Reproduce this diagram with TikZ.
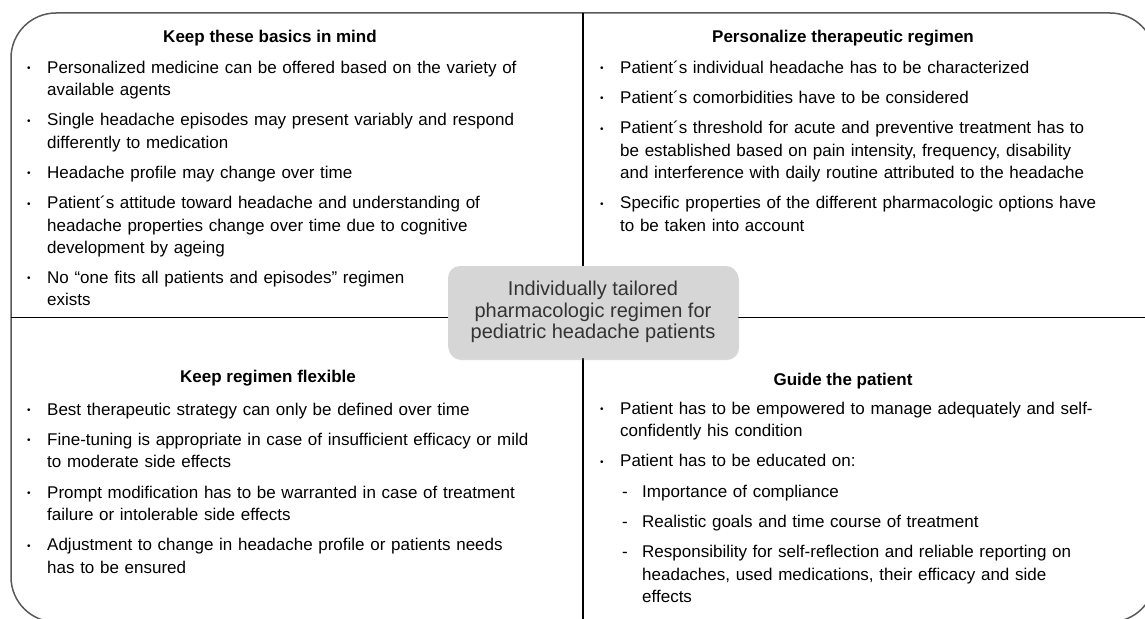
\documentclass[tikz,border=0pt]{standalone}
\usepackage{fontspec}
\setmainfont{Liberation Sans}
\usetikzlibrary{positioning, shadows}

% list entries: bullet item and dash sub-item with hanging indent
\newcommand{\bul}{\makebox[20pt][l]{\raisebox{0.2ex}{\fontsize{10}{10}\selectfont\textbullet}}}
\newcommand{\litem}[1]{\par\hangindent=20pt\hangafter=1\noindent\bul#1\par\addvspace{8pt}}
\newcommand{\lsub}[1]{\par\hangindent=42pt\hangafter=1\noindent\hspace*{22pt}\makebox[20pt][l]{-}#1\par\addvspace{8pt}}

\tikzset{
  frame/.style={draw=black!65, line width=1.5pt, rounded corners=45pt, inner sep=0pt, outer sep=0pt},
  divider/.style={draw=black, line width=1.2pt},
  hub/.style={fill=black!16, rounded corners=12pt, align=center, text=black!80,
    font=\fontsize{20}{21.5}\selectfont, minimum width=290pt, minimum height=92pt,
    drop shadow={opacity=0.3, shadow xshift=1pt, shadow yshift=-2pt}},
  heading/.style={anchor=base, inner sep=0pt, text=black, font=\fontsize{17}{20}\selectfont\bfseries},
  itemlist/.style={anchor=base west, inner sep=0pt, text width=525pt, align=left, text=black,
    font=\fontsize{17}{22.3}\selectfont}
}

\begin{document}
\begin{tikzpicture}[x=1pt, y=-1pt]
\useasboundingbox (0,0) rectangle (1145,618);
\clip (0,0) rectangle (1145,618);

% outer frame and the two dividers
\node[frame, minimum width=1144pt, minimum height=609pt] (frame) at (583,317.5) {};
\draw[divider] (frame.north) -- (frame.south);
\draw[divider] (frame.west) -- (frame.east);

% centre box
\node[hub] (hub) at (593,312) {Individually tailored\\pharmacologic regimen for\\pediatric headache patients};

% top left
\node[heading] (basicsHead) at (270,43) {Keep these basics in mind};
\node[itemlist] (basicsList) at (27,51) {%
\litem{Personalized medicine can be offered based on the variety of\newline available agents}
\litem{Single headache episodes may present variably and respond\newline differently to medication}
\litem{Headache profile may change over time}
\litem{Patient´s attitude toward headache and understanding of\newline headache properties change over time due to cognitive\newline development by ageing}
\litem{No “one fits all patients and episodes” regimen\newline exists}};

% top right
\node[heading] (regimenHead) at (843,43) {Personalize therapeutic regimen};
\node[itemlist] (regimenList) at (600,51) {%
\litem{Patient´s individual headache has to be characterized}
\litem{Patient´s comorbidities have to be considered}
\litem{Patient´s threshold for acute and preventive treatment has to\newline be established based on pain intensity, frequency, disability\newline and interference with daily routine attributed to the headache}
\litem{Specific properties of the different pharmacologic options have\newline to be taken into account}};

% bottom left
\node[heading] (flexHead) at (268,382) {Keep regimen flexible};
\node[itemlist] (flexList) at (27,393) {%
\litem{Best therapeutic strategy can only be defined over time}
\litem{Fine-tuning is appropriate in case of insufficient efficacy or mild\newline to moderate side effects}
\litem{Prompt modification has to be warranted in case of treatment\newline failure or intolerable side effects}
\litem{Adjustment to change in headache profile or patients needs\newline has to be ensured}};

% bottom right
\node[heading] (guideHead) at (843,385) {Guide the patient};
\node[itemlist] (guideList) at (600,392) {%
\litem{Patient has to be empowered to manage adequately and self-\newline confidently his condition}
\litem{Patient has to be educated on:}
\lsub{Importance of compliance}
\lsub{Realistic goals and time course of treatment}
\lsub{Responsibility for self-reflection and reliable reporting on\newline headaches, used medications, their efficacy and side\newline effects}};

\end{tikzpicture}
\end{document}
